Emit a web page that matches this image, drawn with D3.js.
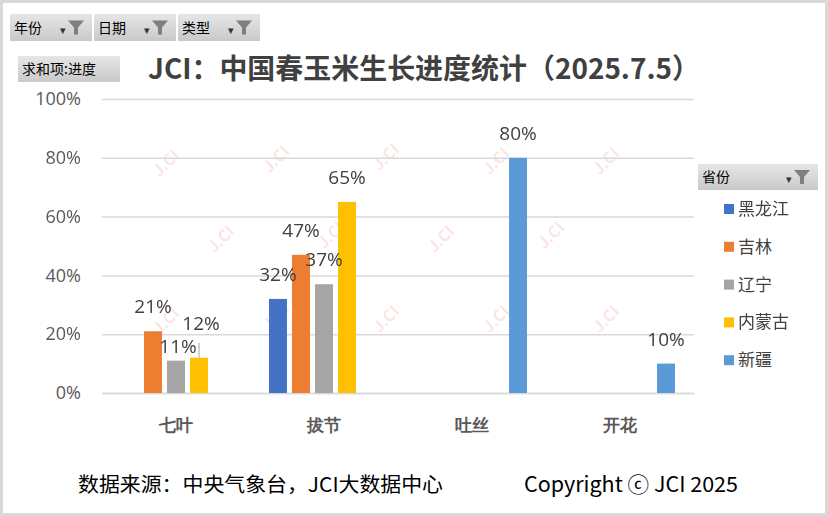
<!DOCTYPE html>
<html>
<head>
<meta charset="utf-8">
<script src="https://cdn.jsdelivr.net/npm/d3@7"></script>
<style>
  body { margin: 0; background: #fff; }
  svg { display: block; font-family: "Noto Sans CJK SC", "Noto Sans", sans-serif; }
</style>
</head>
<body>
<div class="chart"></div>
<script>
var stages = ["七叶", "拔节", "吐丝", "开花"];
var provinces = ["黑龙江", "吉林", "辽宁", "内蒙古", "新疆"];
var colors = ["#4472C4", "#ED7D31", "#A5A5A5", "#FFC000", "#5B9BD5"];
// progress per province, one value per stage (null = no bar)
var heilongjiang = [null, 0.32, null, null];
var jilin = [0.21, 0.47, null, null];
var liaoning = [0.11, 0.37, null, null];
var neimenggu = [0.12, 0.65, null, null];
var xinjiang = [null, null, 0.80, 0.10];
var yTicks = [0, 0.2, 0.4, 0.6, 0.8, 1];
var filters = ["年份", "日期", "类型"];

var series = [heilongjiang, jilin, liaoning, neimenggu, xinjiang];

var W = 828, H = 516;
var margin = { top: 99, right: 134, bottom: 123, left: 102 };
var width = W - margin.left - margin.right;
var height = H - margin.top - margin.bottom;

var root = d3.select(".chart").append("svg").attr("width", W).attr("height", H);

// frame
root.append("rect").attr("x", 1.5).attr("y", 1.5).attr("width", W - 3).attr("height", H - 3)
  .attr("fill", "#fff").attr("stroke", "#d9d9d9").attr("stroke-width", 3);

var defs = root.append("defs");
var grad = defs.append("linearGradient").attr("id", "btn").attr("x1", 0).attr("y1", 0).attr("x2", 0).attr("y2", 1);
grad.append("stop").attr("offset", "0%").attr("stop-color", "#e6e6e6");
grad.append("stop").attr("offset", "100%").attr("stop-color", "#c9c9c9");

function funnel(g, x, y) {
  g.append("text").attr("x", x - 8).attr("y", y + 6).attr("font-size", 11).attr("fill", "#333").text("▾");
  g.append("path")
    .attr("d", `M${x},${y - 7} h16 l-6,7 v7 h-4 v-7 z`)
    .attr("fill", "#7f7f7f");
}

function button(x, y, w, h, label, withFunnel) {
  var g = root.append("g");
  g.append("rect").attr("x", x).attr("y", y).attr("width", w).attr("height", h).attr("fill", "url(#btn)");
  g.append("text").attr("x", x + 4).attr("y", y + h / 2 + 5).attr("font-size", 14).attr("fill", "#000").text(label);
  if (withFunnel) funnel(g, x + w - 24, y + h / 2);
}

filters.forEach((f, i) => button(10 + i * 84, 14, 82, 27, f, true));
button(18, 56, 102, 26, "求和项:进度", false);
button(698, 164, 120, 26, "省份", true);

root.append("text")
  .attr("x", 148).attr("y", 79)
  .attr("textLength", 552).attr("lengthAdjust", "spacingAndGlyphs")
  .attr("font-size", 28).attr("font-weight", "bold").attr("fill", "#404040")
  .text("JCI：中国春玉米生长进度统计（2025.7.5）");

var svg = root.append("g").attr("transform", `translate(${margin.left}, ${margin.top})`);

// watermark
var wm = svg.append("g").attr("opacity", 0.18);
[[68, 68], [178, 64], [288, 62], [398, 66], [508, 66], [123, 144], [233, 140], [343, 144], [453, 140],
 [68, 226], [178, 222], [288, 224], [398, 224], [508, 224]].forEach(p => {
  wm.append("text").attr("transform", `translate(${p[0]},${p[1]}) rotate(-45)`)
    .attr("text-anchor", "middle").attr("font-size", 16).attr("font-weight", "bold")
    .attr("fill", "#e8706a").text("J.CI");
});

var x0 = d3.scaleBand().domain(stages).range([0, width]);
var x1 = d3.scaleBand().domain(provinces).range([x0.bandwidth() / 2 - 55, x0.bandwidth() / 2 + 55]).paddingInner(0.22);
var y = d3.scaleLinear().domain([0, 1]).range([height, 0]);

var yAxis = svg.append("g").call(d3.axisLeft(y).tickValues(yTicks).tickFormat(d3.format(".0%")).tickSize(-width).tickPadding(21));
yAxis.select(".domain").remove();
yAxis.selectAll("line").attr("stroke", "#d9d9d9").attr("stroke-width", 1.5);
yAxis.selectAll("text").attr("font-size", 18).attr("fill", "#595959").attr("font-family", "'Open Sans', sans-serif");

var xAxis = svg.append("g").attr("transform", `translate(0, ${height})`).call(d3.axisBottom(x0).tickSize(0).tickPadding(26));
xAxis.select(".domain").attr("stroke", "#d9d9d9").attr("stroke-width", 1.5);
xAxis.selectAll("text").attr("font-size", 17).attr("fill", "#595959").attr("font-weight", "bold");

var bars = [];
series.forEach((vals, si) => vals.forEach((v, ci) => {
  if (v != null) bars.push({ s: provinces[si], c: stages[ci], v: v, color: colors[si] });
}));

svg.selectAll("rect.bar").data(bars).enter().append("rect")
  .attr("class", "bar")
  .attr("x", d => x0(d.c) + x1(d.s))
  .attr("y", d => y(d.v))
  .attr("width", x1.bandwidth())
  .attr("height", d => height - y(d.v))
  .attr("fill", d => d.color);

// manual label nudges (labels dragged in the original)
var nudge = { "辽宁|七叶": 10, "内蒙古|七叶": -10 };

bars.forEach(d => {
  var cx = x0(d.c) + x1(d.s) + x1.bandwidth() / 2;
  var dy = nudge[d.s + "|" + d.c] || 0;
  var ly = y(d.v) - 25 + dy;
  svg.append("text").attr("x", cx + (dy ? 2 : 0)).attr("y", ly + 7)
    .attr("text-anchor", "middle").attr("font-size", 19).attr("fill", "#404040")
    .attr("font-family", "'Open Sans', sans-serif")
    .text(d3.format(".0%")(d.v));
  if (dy < 0) {
    svg.append("line").attr("x1", cx).attr("x2", cx).attr("y1", ly + 20).attr("y2", y(d.v))
      .attr("stroke", "#a6a6a6").attr("stroke-width", 1);
  }
});

// legend
var legend = root.append("g").attr("transform", "translate(724, 209)");
provinces.forEach((p, i) => {
  var g = legend.append("g").attr("transform", `translate(0, ${i * 37.8})`);
  g.append("rect").attr("x", 0).attr("y", -5).attr("width", 10).attr("height", 10).attr("fill", colors[i]);
  g.append("text").attr("x", 14).attr("y", 6).attr("font-size", 17).attr("fill", "#404040").text(p);
});

root.append("text").attr("x", 78).attr("y", 492).attr("font-size", 20).attr("fill", "#000")
  .attr("textLength", 365).attr("lengthAdjust", "spacingAndGlyphs")
  .text("数据来源：中央气象台，JCI大数据中心");
root.append("text").attr("x", 524).attr("y", 492).attr("font-size", 21).attr("fill", "#000")
  .attr("textLength", 214).attr("lengthAdjust", "spacingAndGlyphs")
  .text("Copyright ⓒ JCI 2025");
</script>
</body>
</html>
